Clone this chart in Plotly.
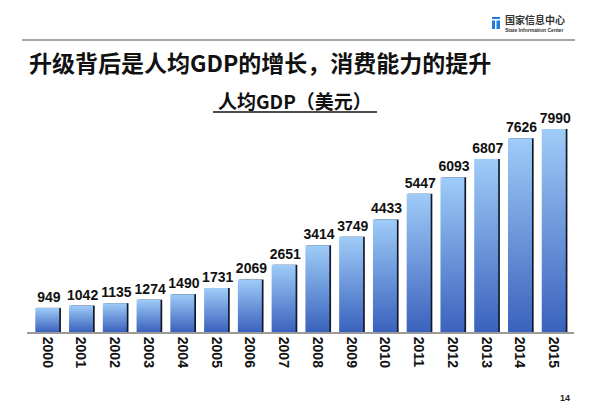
import plotly.graph_objects as go

years = [str(y) for y in range(2000, 2016)]
gdp = [949, 1042, 1135, 1274, 1490, 1731, 2069, 2651, 3414, 3749,
       4433, 5447, 6093, 6807, 7626, 7990]

title_text = "升级背后是人均GDP的增长，消费能力的提升"
subtitle_text = "人均GDP（美元）"
logo_cn = "国家信息中心"
logo_en = "State Information Center"
page_no = "14"

# plot area in pixels
L, R, T, B = 27, 26, 110, 83
W, H = 600, 415
pw, ph = W - L - R, H - T - B
def px(x): return (x - L) / pw
def py(y): return (H - B - y) / ph

idx = list(range(len(years)))
half = 0.355

fig = go.Figure()
# shadow bars (dark) + value labels
fig.add_trace(go.Bar(
    x=idx, y=gdp, width=0.71, offset=-half + 0.05,
    marker=dict(color="#101828", line=dict(width=0)),
    text=[str(v) for v in gdp], textposition="outside", constraintext="none",
    textfont=dict(family="Liberation Sans, Arial", size=14, color="#111"),
    texttemplate="<b>%{text}</b>", cliponaxis=False, hoverinfo="skip",
))
# gradient bars
for i, v in zip(idx, gdp):
    fig.add_trace(go.Scatter(
        x=[i - half, i + half, i + half, i - half, i - half],
        y=[0, 0, v, v, 0], mode="lines", line=dict(width=0),
        fill="toself",
        fillgradient=dict(type="vertical",
                          colorscale=[[0, "#3a62bd"], [1, "#9fccf8"]]),
        hoverinfo="skip", showlegend=False,
    ))

fig.update_layout(
    width=W, height=H, margin=dict(l=L, r=R, t=T, b=B),
    plot_bgcolor="white", paper_bgcolor="white", showlegend=False,
    barmode="overlay",
    xaxis=dict(range=[-0.6, 15.6], tickmode="array", tickvals=idx,
               ticktext=["<b>%s</b>" % y for y in years], tickangle=90,
               showgrid=False, zeroline=False, showline=True,
               linecolor="#9a9a9a", linewidth=2, ticks="",
               tickfont=dict(family="Liberation Sans, Arial", size=14, color="#111")),
    yaxis=dict(range=[0, 8740], visible=False),
)

shapes = [
    dict(type="line", xref="paper", yref="paper", x0=px(22), x1=px(575),
         y0=py(40), y1=py(40), line=dict(color="#a8a8a8", width=2)),
    dict(type="line", xref="paper", yref="paper", x0=px(213), x1=px(377),
         y0=py(112), y1=py(112), line=dict(color="#111", width=1.5)),
    dict(type="rect", xref="paper", yref="paper", x0=px(492), x1=px(500),
         y0=py(17), y1=py(19), line=dict(width=0), fillcolor="#1f7ce0"),
    dict(type="rect", xref="paper", yref="paper", x0=px(492), x1=px(495),
         y0=py(20.5), y1=py(29), line=dict(width=0), fillcolor="#1f7ce0"),
    dict(type="rect", xref="paper", yref="paper", x0=px(496.5), x1=px(500),
         y0=py(20.5), y1=py(29), line=dict(width=0), fillcolor="#1f7ce0"),
]
fig.update_layout(shapes=shapes)

ann = [
    dict(text="<b>%s</b>" % title_text, x=px(27), y=py(62), xanchor="left",
         yanchor="middle", font=dict(family="Noto Sans CJK SC", size=23, color="#111")),
    dict(text="<b>%s</b>" % subtitle_text, x=px(295), y=py(100), xanchor="center",
         yanchor="middle", font=dict(family="Noto Sans CJK SC", size=19, color="#111")),
    dict(text="<b>%s</b>" % logo_cn, x=px(503), y=py(19.5), xanchor="left",
         yanchor="middle", font=dict(family="Noto Sans CJK SC", size=10, color="#333")),
    dict(text="<b>%s</b>" % logo_en, x=px(503), y=py(29.5), xanchor="left",
         yanchor="middle", font=dict(family="Liberation Sans, Arial", size=5, color="#333")),
    dict(text="<b>%s</b>" % page_no, x=px(565), y=py(398), xanchor="center",
         yanchor="middle", font=dict(family="Liberation Sans, Arial", size=9, color="#222")),
]
for a in ann:
    a.update(xref="paper", yref="paper", showarrow=False)
fig.update_layout(annotations=ann)

fig.write_html("out.html")
